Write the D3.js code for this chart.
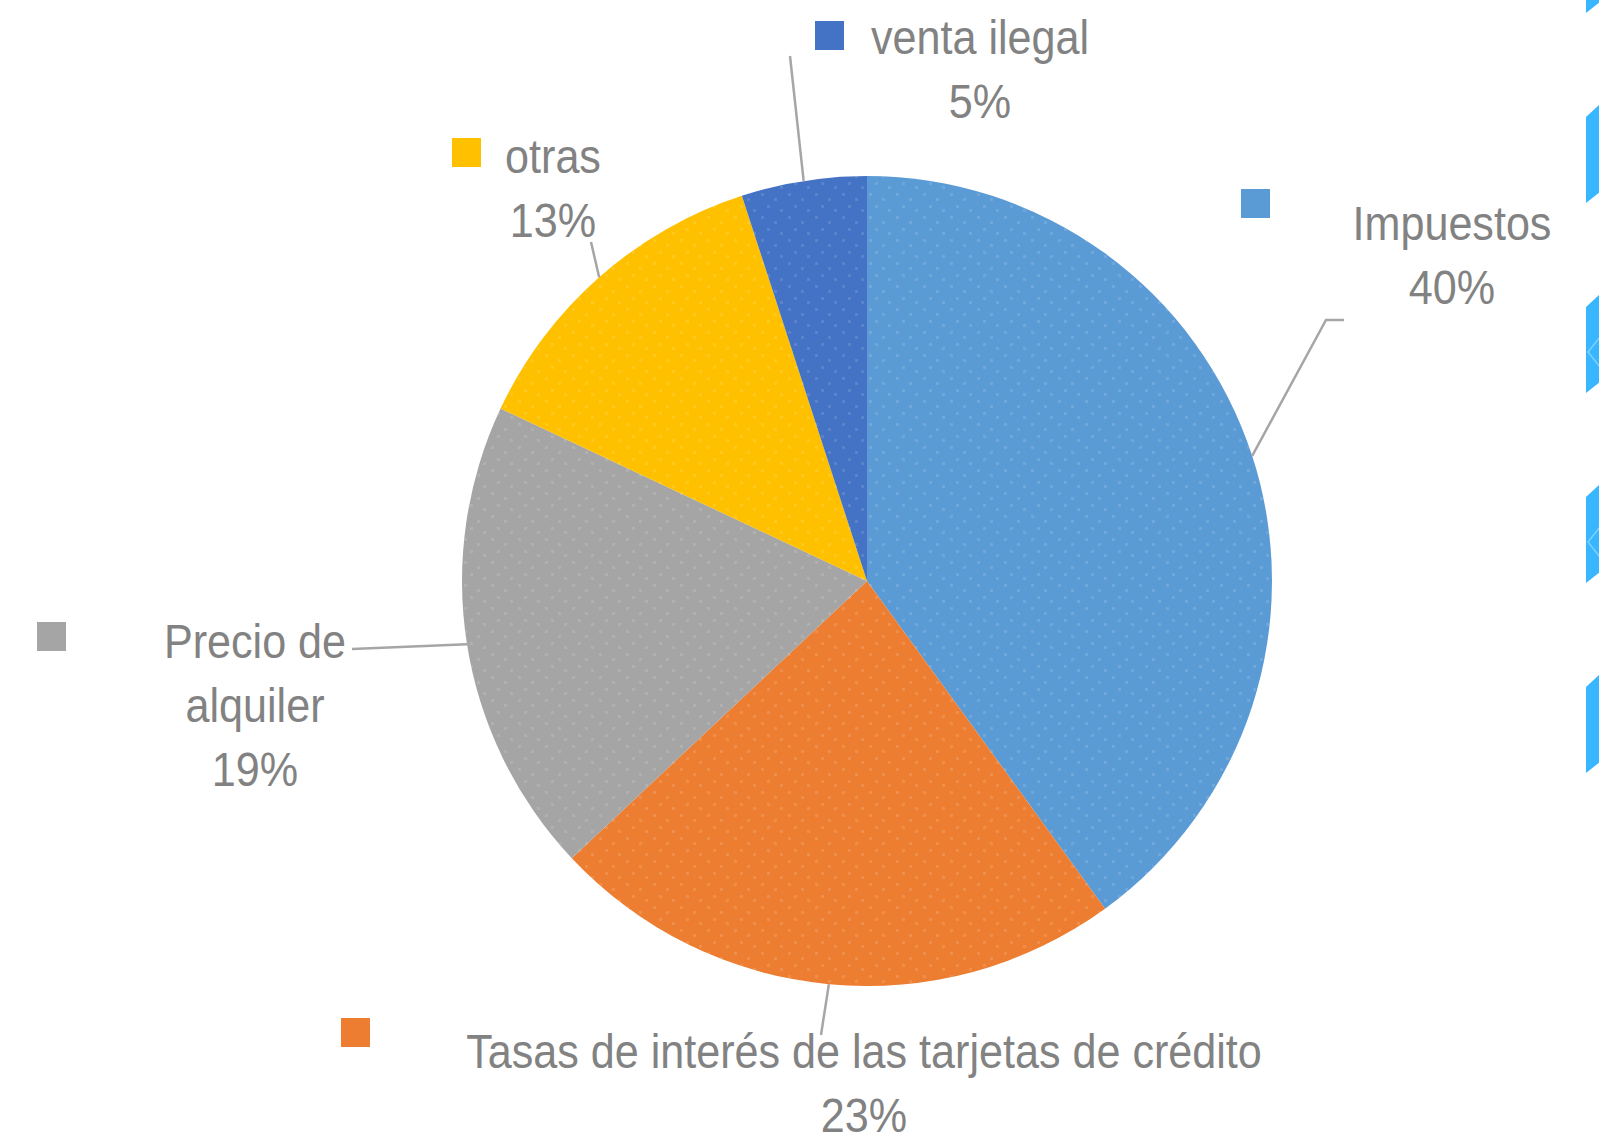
<!DOCTYPE html>
<html>
<head>
<meta charset="utf-8">
<script src="https://cdn.jsdelivr.net/npm/d3@7"></script>
<style>
  body { margin: 0; background: #fff; }
  svg { display: block; }
  text { font-family: "Liberation Sans", Arial, sans-serif; fill: #828282; }
</style>
</head>
<body>
<svg width="1599" height="1143"></svg>
<script>
var categories = ["Impuestos", "Tasas de interés de las tarjetas de crédito", "Precio de alquiler", "otras", "venta ilegal"];
var values = [40, 23, 19, 13, 5];
var colors = ["#5b9bd5", "#ed7d31", "#a5a5a5", "#ffc000", "#4472c4"];

// where each label sits (Excel-style manual placement)
var labelLines = [["Impuestos"], ["Tasas de interés de las tarjetas de crédito"], ["Precio de", "alquiler"], ["otras"], ["venta ilegal"]];
var labelPos = [[1452, 240], [864, 1068], [255, 658], [553, 173], [980, 54]];
var keyPos = [[1241, 189], [341, 1018], [37, 622], [452, 138], [815, 21]];
var leaderEnd = [[[1326, 320], [1344, 320]], [[821, 1035]], [[352, 649]], [[591, 242]], [[790, 56]]];

var svg = d3.select("svg"),
  cx = 867, cy = 581, r = 405;

var data = categories.map(function(c, i) { return {name: c, value: values[i], i: i}; });

var pie = d3.pie().sort(null).value(function(d) { return d.value; });
var arc = d3.arc().innerRadius(0).outerRadius(r);
var edge = d3.arc().innerRadius(r).outerRadius(r);

// faint dotted texture seen on the slices
var defs = svg.append("defs");
var pat = defs.append("pattern")
  .attr("id", "dots")
  .attr("patternUnits", "userSpaceOnUse")
  .attr("width", 27).attr("height", 23);
[[2, 3], [15, 8], [8, 15], [21, 19]].forEach(function(p) {
  pat.append("rect").attr("x", p[0]).attr("y", p[1]).attr("width", 3).attr("height", 3)
    .attr("fill", "#fff").attr("opacity", 0.12);
});

var g = svg.append("g").attr("transform", "translate(" + cx + "," + cy + ")");
var arcs = pie(data);

g.selectAll("path.slice")
  .data(arcs)
  .enter().append("path")
  .attr("class", "slice")
  .attr("d", arc)
  .attr("fill", function(d) { return colors[d.data.i]; });

g.selectAll("path.tex")
  .data(arcs)
  .enter().append("path")
  .attr("class", "tex")
  .attr("d", arc)
  .attr("fill", "url(#dots)");

// leader lines
var line = d3.line();
svg.append("g").selectAll("path")
  .data(arcs)
  .enter().append("path")
  .attr("fill", "none")
  .attr("stroke", "#a6a6a6")
  .attr("stroke-width", 2.5)
  .attr("d", function(d) {
    var c = edge.centroid(d);
    var pts = [[cx + c[0], cy + c[1]]].concat(leaderEnd[d.data.i]);
    return line(pts);
  });

// labels
var fmt = d3.format(".0%");
var total = d3.sum(values);
var lab = svg.append("g").selectAll("g")
  .data(data)
  .enter().append("g");

lab.append("rect")
  .attr("x", function(d) { return keyPos[d.i][0]; })
  .attr("y", function(d) { return keyPos[d.i][1]; })
  .attr("width", 29).attr("height", 29)
  .attr("fill", function(d) { return colors[d.i]; });

lab.each(function(d) {
  var sel = d3.select(this);
  var lines = labelLines[d.i].concat([fmt(d.value / total)]);
  var x = labelPos[d.i][0], y0 = labelPos[d.i][1];
  lines.forEach(function(t, k) {
    sel.append("text")
      .attr("transform", "translate(" + x + "," + (y0 + k * 64) + ") scale(0.88,1)")
      .attr("text-anchor", "middle")
      .style("font-size", "49px")
      .text(t);
  });
});

// blue decorative tabs cut off at the right edge
var tabs = [-73, 117, 307, 497, 687];
var deco = svg.append("g");
tabs.forEach(function(t, k) {
  deco.append("path")
    .attr("d", "M1586," + t + "L1600," + (t - 13) + "L1600," + (t + 75) + "L1586," + (t + 86) + "Z")
    .attr("fill", "#38b6ff");
  if (k == 2 || k == 3) {
    deco.append("path")
      .attr("d", "M1600," + (t + 30) + "L1588," + (t + 45) + "L1600," + (t + 60))
      .attr("fill", "none")
      .attr("stroke", "#7fd0ff")
      .attr("stroke-width", 1.5);
  }
});
</script>
</body>
</html>
